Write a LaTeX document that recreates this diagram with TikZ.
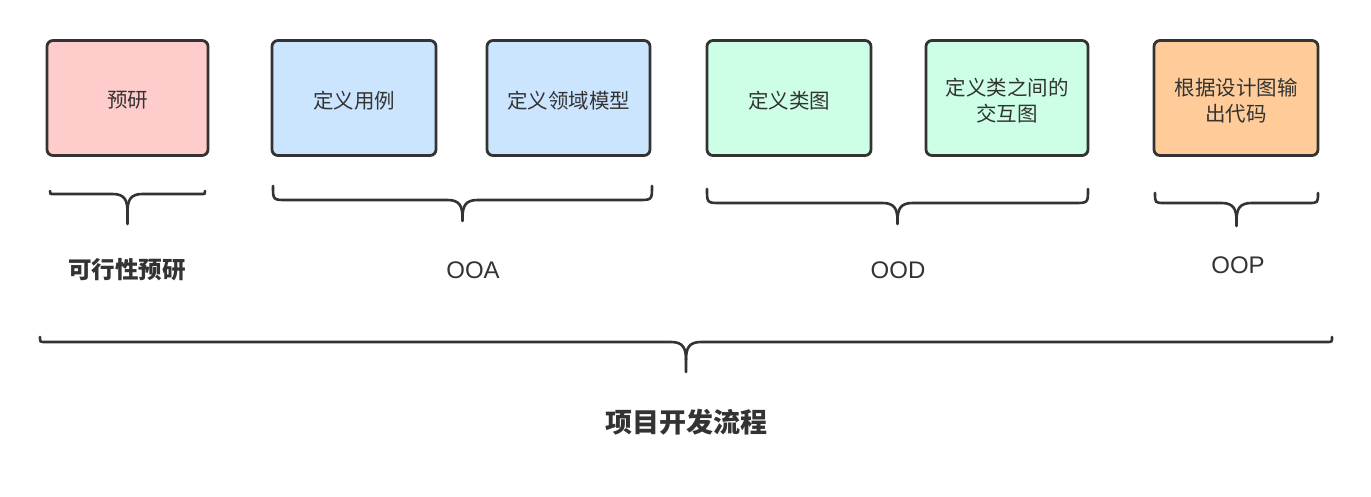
\documentclass[tikz,border=0pt]{standalone}
\usepackage{fontspec}
\setmainfont{Noto Sans CJK SC}
\newfontfamily\latinfont{Liberation Sans}
\definecolor{edge}{HTML}{333333}
\definecolor{pinkfill}{HTML}{FFCCCC}
\definecolor{bluefill}{HTML}{CCE5FF}
\definecolor{greenfill}{HTML}{CCFFE6}
\definecolor{orangefill}{HTML}{FFCC99}
\newcommand{\mybrace}[6]{% x1 x2 yEnd yLine yTip r
  \draw[bracestyle]
    (#1,#3) .. controls (#1,#4) .. (#1+#6,#4)
    -- ({(#1+#2)/2-15},#4) .. controls ({(#1+#2)/2-3},#4) and ({(#1+#2)/2},#4+6) .. ({(#1+#2)/2},#4+18)
    -- ({(#1+#2)/2},#5);
  \draw[bracestyle]
    (#2,#3) .. controls (#2,#4) .. (#2-#6,#4)
    -- ({(#1+#2)/2+15},#4) .. controls ({(#1+#2)/2+3},#4) and ({(#1+#2)/2},#4+6) .. ({(#1+#2)/2},#4+18);
}
\begin{document}
\begin{tikzpicture}[x=1pt,y=-1pt,
  box/.style={draw=edge,line width=2.8pt,rounded corners=6pt,minimum width=161pt,minimum height=115pt,inner sep=0pt},
  btext/.style={font=\fontsize{20.5}{26}\selectfont,text=edge,align=center,inner sep=0pt},
  bracestyle/.style={draw=edge,line width=2.6pt,line cap=round},
  lab/.style={text=edge,font=\fontsize{24}{28}\selectfont\latinfont},
  blab/.style={text=edge,font=\fontsize{23.5}{28}\selectfont\bfseries}
]
\useasboundingbox (0,0) rectangle (1371,496);
\fill[white] (0,0) rectangle (1371,496);
\node[box,fill=pinkfill] (b1) at (127.5,98) {};
\node[box,fill=bluefill,minimum width=164pt] (b2) at (354,98) {};
\node[box,fill=bluefill,minimum width=163pt] (b3) at (568.5,98) {};
\node[box,fill=greenfill,minimum width=164pt] (b4) at (789,98) {};
\node[box,fill=greenfill,minimum width=162pt] (b5) at (1007,98) {};
\node[box,fill=orangefill,minimum width=164pt] (b6) at (1236,98) {};
\node[btext] (t1) at ([yshift=-2.5pt]b1.center) {预研};
\node[btext] (t2) at ([yshift=-2.5pt]b2.center) {定义用例};
\node[btext] (t3) at ([yshift=-2.5pt]b3.center) {定义领域模型};
\node[btext] (t4) at ([yshift=-2.5pt]b4.center) {定义类图};
\node[btext] (t5) at ([yshift=-3pt]b5.center) {定义类之间的\\交互图};
\node[btext] (t6) at ([yshift=-3pt]b6.center) {根据设计图输\\出代码};

\mybrace{50}{205}{191}{194}{224}{4}
\mybrace{273}{652}{186}{200}{221}{14}
\mybrace{707}{1088}{189}{203}{224}{14}
\mybrace{1155}{1318}{193}{203}{226}{10}
\mybrace{40}{1332}{337}{342}{372}{5}

\node[blab] (l1) at (127,270) {可行性预研};
\node[lab] (l2) at (473,270) {OOA};
\node[lab] (l3) at (898,270) {OOD};
\node[lab] (l4) at (1238,265) {OOP};
\node[blab,font=\fontsize{27}{30}\selectfont\bfseries] (l5) at (686,422) {项目开发流程};
\end{tikzpicture}
\end{document}
